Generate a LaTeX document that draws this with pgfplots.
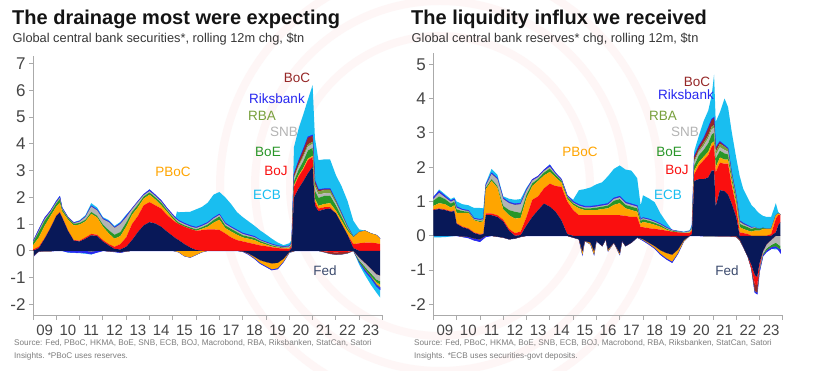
\documentclass[border=0pt]{standalone}
\usepackage{fontspec}
\setmainfont{Liberation Sans}
\usepackage{pgfplots}
\usepackage{pgfplotstable}
\pgfplotsset{compat=1.18}

\definecolor{cFed}{RGB}{8,24,88}
\definecolor{cBoJ}{RGB}{250,15,15}
\definecolor{cPBoC}{RGB}{255,165,0}
\definecolor{cBoE}{RGB}{40,150,40}
\definecolor{cSNB}{RGB}{180,180,180}
\definecolor{cRBA}{RGB}{120,160,60}
\definecolor{cBoC}{RGB}{150,40,40}
\definecolor{cRiks}{RGB}{40,40,240}
\definecolor{cECB}{RGB}{25,190,240}
\definecolor{axisgray}{RGB}{170,170,170}
\definecolor{ticktext}{RGB}{70,70,70}
\definecolor{tFed}{RGB}{60,75,110}
\definecolor{wm}{RGB}{254,246,246}

% ---------- Left panel: securities, positive parts ----------
\pgfplotstableread{
x Fed BoJ PBoC BoE SNB RBA BoC Riks ECB
2009.00 0.00 0.05 0.15 0.10 0.02 0.00 0.00 0.03 0.00
2009.25 0.10 0.05 0.35 0.20 0.05 0.00 0.00 0.05 0.00
2009.50 0.45 0.03 0.45 0.20 0.05 0.00 0.00 0.05 0.00
2009.75 0.85 0.02 0.43 0.12 0.04 0.00 0.00 0.04 0.00
2010.00 1.30 0.02 0.33 0.12 0.04 0.00 0.00 0.04 0.03
2010.15 1.43 0.02 0.35 0.13 0.05 0.00 0.00 0.05 0.02
2010.25 1.25 0.02 0.20 0.08 0.03 0.00 0.00 0.03 0.02
2010.50 0.75 0.02 0.40 0.05 0.02 0.00 0.00 0.02 0.00
2010.75 0.38 0.02 0.55 0.06 0.02 0.00 0.00 0.02 0.02
2011.00 0.35 0.03 0.60 0.06 0.05 0.00 0.00 0.02 0.03
2011.25 0.45 0.05 0.60 0.06 0.10 0.00 0.00 0.02 0.05
2011.50 0.58 0.05 0.75 0.07 0.20 0.00 0.00 0.03 0.10
2011.75 0.55 0.05 0.65 0.06 0.20 0.00 0.00 0.03 0.08
2012.00 0.35 0.05 0.50 0.08 0.20 0.00 0.00 0.03 0.05
2012.25 0.20 0.05 0.40 0.12 0.30 0.00 0.00 0.03 0.05
2012.50 0.07 0.08 0.30 0.15 0.25 0.00 0.00 0.03 0.05
2012.75 0.05 0.20 0.30 0.15 0.30 0.00 0.00 0.03 0.05
2013.00 0.15 0.35 0.40 0.15 0.20 0.00 0.00 0.05 0.05
2013.25 0.40 0.60 0.35 0.10 0.10 0.00 0.00 0.03 0.00
2013.50 0.70 0.60 0.32 0.10 0.10 0.00 0.00 0.03 0.00
2013.75 0.95 0.75 0.25 0.08 0.05 0.00 0.00 0.03 0.00
2014.00 1.07 0.75 0.28 0.08 0.05 0.00 0.00 0.05 0.02
2014.25 1.02 0.68 0.22 0.08 0.05 0.00 0.00 0.04 0.00
2014.50 0.90 0.68 0.12 0.10 0.04 0.00 0.00 0.04 0.00
2014.75 0.72 0.62 0.12 0.06 0.04 0.00 0.00 0.04 0.00
2015.00 0.55 0.60 0.05 0.07 0.04 0.00 0.00 0.04 0.00
2015.12 0.47 0.60 0.02 0.07 0.04 0.00 0.00 0.04 0.02
2015.18 0.44 0.60 0.01 0.06 0.05 0.00 0.00 0.03 0.28
2015.25 0.40 0.60 0.00 0.06 0.05 0.00 0.00 0.03 0.30
2015.50 0.25 0.65 0.00 0.05 0.05 0.00 0.00 0.03 0.42
2015.75 0.12 0.70 0.00 0.05 0.04 0.00 0.00 0.03 0.52
2016.00 0.03 0.72 0.00 0.05 0.05 0.00 0.00 0.03 0.67
2016.25 0.00 0.77 0.05 0.06 0.05 0.00 0.00 0.03 0.68
2016.50 0.00 0.80 0.10 0.08 0.05 0.00 0.00 0.03 0.74
2016.75 0.00 0.80 0.25 0.10 0.06 0.00 0.00 0.03 0.86
2017.00 0.00 0.78 0.38 0.12 0.06 0.00 0.00 0.03 0.83
2017.25 0.00 0.65 0.20 0.10 0.06 0.00 0.00 0.03 0.96
2017.50 0.00 0.50 0.22 0.10 0.05 0.00 0.00 0.03 0.85
2017.75 0.00 0.40 0.20 0.10 0.05 0.00 0.00 0.03 0.67
2018.00 0.00 0.35 0.15 0.08 0.05 0.00 0.00 0.03 0.60
2018.25 0.00 0.30 0.15 0.08 0.04 0.00 0.00 0.03 0.50
2018.50 0.00 0.25 0.15 0.08 0.03 0.00 0.00 0.03 0.40
2018.75 0.00 0.20 0.10 0.06 0.03 0.00 0.00 0.02 0.35
2019.00 0.00 0.17 0.06 0.05 0.03 0.00 0.00 0.02 0.28
2019.25 0.00 0.13 0.03 0.04 0.03 0.00 0.00 0.02 0.20
2019.50 0.00 0.10 0.02 0.03 0.02 0.00 0.00 0.02 0.12
2019.75 0.00 0.08 0.02 0.02 0.02 0.00 0.00 0.02 0.05
2020.00 0.00 0.07 0.02 0.02 0.05 0.00 0.00 0.02 0.10
2020.10 0.10 0.08 0.02 0.03 0.05 0.00 0.00 0.02 0.10
2020.20 2.00 0.40 0.05 0.15 0.10 0.05 0.10 0.02 1.00
2020.40 2.33 0.45 0.05 0.20 0.12 0.05 0.15 0.02 1.20
2020.60 2.60 0.45 0.05 0.25 0.15 0.07 0.20 0.03 1.30
2020.80 2.90 0.50 0.05 0.30 0.15 0.08 0.25 0.03 1.40
2021.00 3.15 0.35 0.05 0.30 0.15 0.08 0.22 0.03 1.87
2021.10 1.70 0.15 0.10 0.30 0.15 0.10 0.10 0.02 1.60
2021.25 1.48 0.10 0.10 0.30 0.12 0.12 0.05 0.02 1.10
2021.50 1.55 0.08 0.12 0.30 0.10 0.12 0.03 0.02 1.10
2021.75 1.58 0.05 0.15 0.28 0.10 0.12 0.02 0.02 1.10
2022.00 1.40 0.00 0.10 0.20 0.08 0.08 0.00 0.02 0.95
2022.25 1.00 0.00 0.12 0.15 0.05 0.06 0.00 0.02 1.00
2022.50 0.60 0.00 0.15 0.08 0.03 0.04 0.00 0.01 0.95
2022.75 0.10 0.15 0.25 0.02 0.00 0.00 0.00 0.00 0.60
2023.00 0.00 0.28 0.42 0.00 0.00 0.00 0.00 0.00 0.10
2023.25 0.00 0.30 0.45 0.00 0.00 0.00 0.00 0.00 0.00
2023.50 0.00 0.30 0.35 0.00 0.00 0.00 0.00 0.00 0.00
2023.75 0.00 0.28 0.30 0.00 0.00 0.00 0.00 0.00 0.00
2023.90 0.00 0.25 0.20 0.00 0.00 0.00 0.00 0.00 0.00
}\leftpos

% ---------- Left panel: negative parts ----------
\pgfplotstableread{
x Fed BoJ BoC SNB BoE PBoC RBA Riks ECB
2009.00 -0.20 0 0 0 0 0 0 -0.03 0
2009.25 -0.02 0 0 0 0 0 0 0 0
2010.25 0 0 0 0 0 0 0 0 0
2010.50 0 0 0 0 0 0 0 -0.05 -0.02
2010.75 0 0 0 0 0 0 0 -0.06 -0.02
2011.00 0 0 0 0 0 0 0 -0.07 -0.02
2011.25 0 0 0 0 0 0 0 -0.08 -0.03
2011.50 0 0 0 -0.02 0 0 0 -0.10 -0.02
2011.75 0 0 0 0 0 0 0 -0.06 0
2012.00 0 0 0 0 0 0 0 0 0
2012.50 -0.03 0 0 0 0 0 0 -0.01 0
2012.75 -0.05 0 0 0 0 0 0 -0.02 0
2013.00 -0.02 0 0 0 0 0 0 0 0
2013.25 0 0 0 0 0 0 0 0 0
2015.00 0 0 0 0 0 0 0 0 0
2015.25 0 0 0 0 0 -0.05 0 0 0
2015.50 0 0 0 0 0 -0.20 0 0 0
2015.75 0 0 0 0 0 -0.25 0 0 0
2016.00 0 0 0 0 0 -0.15 0 0 0
2016.25 0 0 0 0 0 -0.05 0 0 0
2016.50 0 0 0 0 0 0 0 0 0
2017.75 0 0 0 0 0 0 0 0 0
2018.00 -0.02 0 0 0 0 0 0 -0.01 0
2018.25 -0.10 0 0 0 0 -0.02 0 -0.02 0
2018.50 -0.22 0 0 0 0 -0.05 0 -0.02 0
2018.75 -0.35 0 0 0 0 -0.10 0 -0.03 0
2019.00 -0.42 0 0 0 0 -0.15 0 -0.03 0
2019.25 -0.47 0 0 0 0 -0.22 0 -0.03 0
2019.50 -0.45 0 0 0 0 -0.20 0 -0.03 0
2019.75 -0.30 0 0 0 0 -0.10 0 -0.02 0
2020.00 -0.05 0 0 0 0 -0.02 0 0 0
2020.25 0 0 0 0 0 0 0 0 0
2021.25 0 0 0 0 0 0 0 0 0
2021.50 0 -0.02 -0.03 0 0 0 0 0 0
2021.75 0 -0.05 -0.06 0 0 0 0 0 0
2022.00 0 -0.06 -0.08 0 0 0 0 0 0
2022.25 0 -0.05 -0.08 0 0 0 0 0 0
2022.50 0 -0.04 -0.05 0 0 0 0 0 0
2022.75 0 0 0 0 0 0 0 0 0
2023.00 -0.25 0 0 -0.10 -0.05 0 0 -0.02 -0.10
2023.25 -0.45 0 0 -0.15 -0.08 0 -0.03 -0.05 -0.15
2023.50 -0.66 0 0 -0.18 -0.10 0 -0.03 -0.05 -0.25
2023.75 -0.88 0 0 -0.20 -0.10 -0.05 -0.04 -0.06 -0.25
2023.90 -0.92 0 0 -0.22 -0.12 -0.08 -0.04 -0.07 -0.30
}\leftneg

% ---------- Right panel: reserves, positive parts ----------
\pgfplotstableread{
x Fed BoJ PBoC BoE SNB RBA BoC Riks ECB
2009.00 0.75 0.02 0.10 0.15 0.05 0.00 0.00 0.05 0.00
2009.25 0.78 0.02 0.15 0.20 0.10 0.00 0.00 0.05 0.05
2009.50 0.75 0.02 0.15 0.15 0.05 0.00 0.00 0.04 0.05
2009.75 0.70 0.02 0.10 0.12 0.05 0.00 0.00 0.03 0.05
2009.90 0.72 0.02 0.15 0.10 0.05 0.00 0.00 0.03 0.05
2010.00 0.35 0.02 0.30 0.10 0.05 0.00 0.00 0.03 0.15
2010.25 0.25 0.02 0.40 0.05 0.03 0.00 0.00 0.02 0.15
2010.50 0.20 0.02 0.45 0.03 0.02 0.00 0.00 0.02 0.15
2010.75 0.08 0.02 0.35 0.02 0.02 0.00 0.00 0.02 0.30
2011.00 0.03 0.02 0.35 0.03 0.03 0.00 0.00 0.02 0.33
2011.15 0.05 0.02 0.35 0.03 0.03 0.00 0.00 0.02 0.30
2011.25 0.60 0.05 0.70 0.05 0.05 0.00 0.00 0.03 0.05
2011.50 0.60 0.05 0.95 0.05 0.15 0.00 0.00 0.03 0.12
2011.75 0.55 0.05 0.80 0.05 0.20 0.00 0.00 0.03 0.10
2012.00 0.42 0.05 0.30 0.10 0.20 0.00 0.00 0.03 0.05
2012.25 0.15 0.05 0.40 0.15 0.20 0.00 0.00 0.03 0.10
2012.50 0.00 0.08 0.42 0.20 0.20 0.00 0.00 0.03 0.12
2012.75 0.02 0.10 0.40 0.15 0.25 0.00 0.00 0.03 0.12
2013.00 0.30 0.25 0.55 0.10 0.12 0.00 0.00 0.03 0.05
2013.25 0.55 0.50 0.40 0.08 0.08 0.00 0.00 0.03 0.00
2013.50 0.75 0.40 0.45 0.06 0.05 0.00 0.00 0.03 0.00
2013.75 0.94 0.44 0.38 0.08 0.05 0.00 0.00 0.03 0.00
2014.00 0.85 0.67 0.34 0.10 0.05 0.00 0.00 0.05 0.02
2014.25 0.70 0.75 0.25 0.07 0.03 0.00 0.00 0.03 0.00
2014.50 0.45 0.98 0.12 0.05 0.02 0.00 0.00 0.03 0.00
2014.75 0.05 0.95 0.08 0.05 0.02 0.00 0.00 0.03 0.00
2015.00 0.00 0.75 0.15 0.05 0.02 0.00 0.00 0.03 0.05
2015.25 0.00 0.60 0.20 0.05 0.03 0.00 0.00 0.03 0.42
2015.50 0.00 0.60 0.15 0.05 0.03 0.00 0.00 0.03 0.50
2015.75 0.00 0.60 0.15 0.05 0.03 0.00 0.00 0.03 0.55
2016.00 0.00 0.60 0.15 0.07 0.03 0.00 0.00 0.03 0.62
2016.25 0.00 0.60 0.18 0.07 0.03 0.00 0.00 0.03 0.65
2016.50 0.00 0.60 0.20 0.08 0.03 0.00 0.00 0.03 0.80
2016.75 0.00 0.60 0.30 0.12 0.05 0.00 0.00 0.03 0.85
2017.00 0.00 0.60 0.35 0.12 0.05 0.00 0.00 0.03 0.90
2017.25 0.00 0.58 0.22 0.10 0.05 0.00 0.00 0.03 0.95
2017.50 0.00 0.55 0.20 0.10 0.05 0.00 0.00 0.03 0.97
2017.75 0.00 0.55 0.15 0.10 0.05 0.00 0.00 0.03 0.80
2017.90 0.00 0.25 0.10 0.08 0.03 0.00 0.00 0.02 0.40
2018.00 0.00 0.25 0.15 0.08 0.03 0.00 0.00 0.02 0.65
2018.25 0.00 0.22 0.15 0.07 0.03 0.00 0.00 0.02 0.60
2018.50 0.00 0.20 0.12 0.06 0.03 0.00 0.00 0.02 0.55
2018.75 0.00 0.18 0.08 0.05 0.02 0.00 0.00 0.02 0.30
2019.00 0.00 0.15 0.03 0.03 0.02 0.00 0.00 0.02 0.15
2019.25 0.00 0.12 0.00 0.02 0.02 0.00 0.00 0.01 0.00
2019.50 0.00 0.10 0.00 0.02 0.01 0.00 0.00 0.00 0.02
2019.75 0.00 0.08 0.00 0.00 0.02 0.00 0.00 0.00 0.02
2020.00 0.00 0.08 0.02 0.00 0.03 0.00 0.00 0.00 0.03
2020.10 0.05 0.10 0.02 0.02 0.03 0.00 0.00 0.00 0.10
2020.20 1.60 0.20 0.10 0.15 0.10 0.05 0.10 0.02 0.15
2020.40 1.65 0.40 0.10 0.20 0.10 0.05 0.10 0.02 0.30
2020.60 1.65 0.55 0.10 0.20 0.12 0.08 0.12 0.02 0.50
2020.80 1.70 0.65 0.10 0.25 0.15 0.08 0.20 0.02 0.50
2020.95 1.90 0.70 0.10 0.25 0.15 0.08 0.20 0.02 0.70
2021.05 1.90 0.75 0.10 0.25 0.15 0.08 0.20 0.02 1.25
2021.12 0.85 1.00 0.15 0.25 0.10 0.10 0.10 0.02 0.75
2021.30 1.33 0.80 0.15 0.20 0.10 0.10 0.05 0.02 0.85
2021.50 1.30 0.80 0.12 0.18 0.10 0.10 0.02 0.02 1.36
2021.65 1.20 0.90 0.12 0.15 0.08 0.08 0.00 0.02 1.20
2021.80 0.95 0.55 0.12 0.12 0.05 0.05 0.00 0.02 1.20
2022.00 0.55 0.30 0.12 0.10 0.05 0.03 0.00 0.02 1.10
2022.15 0.00 0.10 0.15 0.10 0.05 0.02 0.00 0.02 1.30
2022.30 0.00 0.08 0.12 0.10 0.03 0.02 0.00 0.02 1.00
2022.50 0.00 0.05 0.10 0.10 0.03 0.00 0.00 0.02 0.80
2022.65 0.00 0.00 0.12 0.08 0.03 0.00 0.00 0.02 0.65
2022.80 0.00 0.00 0.15 0.08 0.02 0.00 0.00 0.00 0.55
2022.90 0.00 0.00 0.15 0.06 0.00 0.00 0.00 0.00 0.50
2023.00 0.00 0.00 0.15 0.05 0.00 0.00 0.00 0.00 0.45
2023.15 0.00 0.00 0.20 0.03 0.00 0.00 0.00 0.00 0.35
2023.30 0.00 0.00 0.20 0.00 0.00 0.00 0.00 0.00 0.35
2023.50 0.00 0.05 0.15 0.00 0.00 0.00 0.00 0.00 0.35
2023.70 0.10 0.40 0.10 0.00 0.00 0.00 0.00 0.00 0.35
2023.80 0.30 0.30 0.05 0.00 0.00 0.00 0.00 0.00 0.05
2023.90 0.40 0.20 0.02 0.00 0.00 0.00 0.00 0.00 0.00
}\rightpos

% ---------- Right panel: negative parts ----------
\pgfplotstableread{
x Fed BoJ BoC SNB BoE PBoC RBA Riks ECB
2009.00 0 0 0 0 0 0 0 0 -0.05
2009.50 0 0 0 0 0 0 0 0 -0.04
2010.00 0 0 0 0 0 0 0 0 0
2010.50 -0.03 0 0 0 0 0 0 -0.03 0
2010.75 -0.08 0 0 0 0 0 0 -0.05 0
2011.00 -0.10 0 0 0 0 0 0 -0.07 0
2011.25 0 0 0 0 0 0 0 -0.03 0
2011.50 0 0 0 0 0 0 0 0 0
2012.00 -0.05 0 0 0 0 0 0 0 0
2012.25 -0.10 0 0 0 0 0 0 0 0
2012.50 -0.08 0 0 0 0 0 0 0 0
2012.75 -0.03 0 0 0 0 0 0 0 0
2013.00 0 0 0 0 0 0 0 0 0
2014.75 0 0 0 0 0 0 0 0 0
2015.00 -0.05 0 0 0 0 0 0 0 0
2015.25 -0.10 0 0 0 0 0 0 0 0
2015.40 -0.45 0 0 0 0 -0.10 0 0 0
2015.50 -0.15 0 0 0 0 0 0 0 0
2015.75 -0.20 0 0 0 0 -0.05 0 0 0
2015.90 -0.45 0 0 0 0 -0.10 0 0 0
2016.00 -0.15 0 0 0 0 0 0 0 0
2016.25 -0.30 0 0 0 0 0 0 0 0
2016.40 -0.10 0 0 0 0 0 0 0 0
2016.50 -0.40 0 0 0 0 -0.05 0 0 0
2016.75 -0.20 0 0 0 0 0 0 0 0
2017.00 -0.50 0 0 0 0 -0.05 0 0 0
2017.10 -0.15 0 0 0 0 0 0 0 0
2017.25 -0.30 0 0 0 0 0 0 0 0
2017.50 -0.20 0 0 0 0 0 0 0 0
2017.75 -0.05 0 0 0 0 0 0 0 0
2018.00 -0.10 0 0 0 0 -0.02 0 -0.02 0
2018.25 -0.20 0 0 0 0 -0.03 0 -0.02 0
2018.50 -0.30 0 0 0 0 -0.05 0 -0.02 0
2018.75 -0.42 0 0 0 0 -0.10 0 -0.03 0
2019.00 -0.50 0 0 0 0 -0.15 0 -0.03 0
2019.25 -0.55 0 0 0 0 -0.20 0 -0.03 0
2019.50 -0.40 0 0 0 0 -0.10 0 -0.02 0
2019.75 -0.13 0 0 0 0 -0.03 0 0 0
2020.00 0 0 0 0 0 0 0 0 0
2021.75 0 0 -0.02 0 0 0 0 0 0
2022.00 0 0 -0.03 0 0 0 0 0 0
2022.15 -0.10 0 -0.03 0 0 0 0 0 0
2022.30 -0.32 0 0 0 0 0 0 0 0
2022.50 -0.61 0 0 0 0 0 0 0 0
2022.65 -0.85 -0.10 0 0 0 0 0 0 0
2022.80 -1.15 -0.25 -0.20 0 0 0 0 -0.05 0
2022.90 -1.20 -0.25 -0.20 0 0 0 0 -0.05 0
2023.00 -0.80 -0.10 -0.05 -0.05 0 0 0 -0.05 0
2023.15 -0.45 0 0 -0.08 -0.03 0 0 -0.03 0
2023.30 -0.25 0 0 -0.12 -0.05 0 0 -0.05 0
2023.50 -0.12 0 0 -0.15 -0.06 0 0 -0.05 0
2023.70 0 0 0 -0.20 -0.10 0 0 -0.05 -0.05
2023.80 0 0 0 -0.25 -0.10 0 0 -0.05 0
2023.90 0 0 0 -0.30 -0.10 0 0 -0.10 0
}\rightneg

\pgfplotsset{
  panel/.style={
    scale only axis, width=349.5pt,
    xmin=2009, xmax=2024,
    axis x line*=bottom, axis y line*=left,
    axis line style={draw=axisgray, line width=0.8pt},
    tick style={draw=axisgray, line width=0.8pt},
    tick align=outside, major tick length=4pt,
    xtick={2009,2010,...,2024},
    x tick label as interval,
    xticklabels={09,10,11,12,13,14,15,16,17,18,19,20,21,22,23},
    x tick label style={font=\fontsize{15}{15}\selectfont, text=ticktext, yshift=-2pt},
    y tick label style={font=\fontsize{17}{17}\selectfont, text=ticktext},
    stack plots=y,
  },
  lpanel/.style={panel, height=260pt, ymin=-2.43, ymax=7.3,
    ytick={-2,-1,0,1,2,3,4,5,6,7},
    yticklabels={-2,-1,0,1,2,3,4,5,6,7}},
  rpanel/.style={panel, height=262.4pt, ymin=-2.33, ymax=5.32,
    ytick={-2,-1,0,1,2,3,4,5},
    yticklabels={-2,-1,0,1,2,3,4,5}},
  ar/.style={fill=#1, draw=none},
  riks/.style={fill=cRiks, draw=cRiks, line width=0.6pt},
}

\begin{document}
\begin{tikzpicture}
\fill[white] (0pt,0pt) rectangle (835pt,371pt);
\path[use as bounding box] (0pt,0pt) rectangle (835pt,371pt);
% faint watermark rings
\begin{scope}
\clip (0pt,0pt) rectangle (835pt,371pt);
\draw[wm, line width=8pt] (440pt,185pt) circle (150pt);
\draw[wm, line width=8pt] (440pt,185pt) circle (185pt);
\draw[wm, line width=8pt] (440pt,185pt) circle (220pt);
\end{scope}

% ===== Left panel =====
\begin{axis}[lpanel, hide axis, at={(33pt,55.3pt)}, anchor=south west]
\addplot[ar=cFed]  table[x=x,y=Fed]  {\leftneg} \closedcycle;
\addplot[ar=cBoJ]  table[x=x,y=BoJ]  {\leftneg} \closedcycle;
\addplot[ar=cBoC]  table[x=x,y=BoC]  {\leftneg} \closedcycle;
\addplot[ar=cSNB]  table[x=x,y=SNB]  {\leftneg} \closedcycle;
\addplot[ar=cBoE]  table[x=x,y=BoE]  {\leftneg} \closedcycle;
\addplot[ar=cPBoC] table[x=x,y=PBoC] {\leftneg} \closedcycle;
\addplot[ar=cRBA]  table[x=x,y=RBA]  {\leftneg} \closedcycle;
\addplot[riks]     table[x=x,y=Riks] {\leftneg} \closedcycle;
\addplot[ar=cECB]  table[x=x,y=ECB]  {\leftneg} \closedcycle;
\end{axis}
\begin{axis}[lpanel, at={(33pt,55.3pt)}, anchor=south west]
\addplot[ar=cFed]  table[x=x,y=Fed]  {\leftpos} \closedcycle;
\addplot[ar=cBoJ]  table[x=x,y=BoJ]  {\leftpos} \closedcycle;
\addplot[ar=cPBoC] table[x=x,y=PBoC] {\leftpos} \closedcycle;
\addplot[ar=cBoE]  table[x=x,y=BoE]  {\leftpos} \closedcycle;
\addplot[ar=cSNB]  table[x=x,y=SNB]  {\leftpos} \closedcycle;
\addplot[ar=cRBA]  table[x=x,y=RBA]  {\leftpos} \closedcycle;
\addplot[ar=cBoC]  table[x=x,y=BoC]  {\leftpos} \closedcycle;
\addplot[riks]     table[x=x,y=Riks] {\leftpos} \closedcycle;
\addplot[ar=cECB]  table[x=x,y=ECB]  {\leftpos} \closedcycle;
\end{axis}

% ===== Right panel =====
\begin{axis}[rpanel, hide axis, at={(433.3pt,55.3pt)}, anchor=south west]
\addplot[ar=cFed]  table[x=x,y=Fed]  {\rightneg} \closedcycle;
\addplot[ar=cBoJ]  table[x=x,y=BoJ]  {\rightneg} \closedcycle;
\addplot[ar=cBoC]  table[x=x,y=BoC]  {\rightneg} \closedcycle;
\addplot[ar=cSNB]  table[x=x,y=SNB]  {\rightneg} \closedcycle;
\addplot[ar=cBoE]  table[x=x,y=BoE]  {\rightneg} \closedcycle;
\addplot[ar=cPBoC] table[x=x,y=PBoC] {\rightneg} \closedcycle;
\addplot[ar=cRBA]  table[x=x,y=RBA]  {\rightneg} \closedcycle;
\addplot[riks]     table[x=x,y=Riks] {\rightneg} \closedcycle;
\addplot[ar=cECB]  table[x=x,y=ECB]  {\rightneg} \closedcycle;
\end{axis}
\begin{axis}[rpanel, at={(433.3pt,55.3pt)}, anchor=south west]
\addplot[ar=cFed]  table[x=x,y=Fed]  {\rightpos} \closedcycle;
\addplot[ar=cBoJ]  table[x=x,y=BoJ]  {\rightpos} \closedcycle;
\addplot[ar=cPBoC] table[x=x,y=PBoC] {\rightpos} \closedcycle;
\addplot[ar=cBoE]  table[x=x,y=BoE]  {\rightpos} \closedcycle;
\addplot[ar=cSNB]  table[x=x,y=SNB]  {\rightpos} \closedcycle;
\addplot[ar=cRBA]  table[x=x,y=RBA]  {\rightpos} \closedcycle;
\addplot[ar=cBoC]  table[x=x,y=BoC]  {\rightpos} \closedcycle;
\addplot[riks]     table[x=x,y=Riks] {\rightpos} \closedcycle;
\addplot[ar=cECB]  table[x=x,y=ECB]  {\rightpos} \closedcycle;
\end{axis}

% ===== Titles =====
\node[anchor=base west, inner sep=0pt, text={rgb,255:red,20;green,20;blue,20}]
  at (12pt,346pt) {\fontsize{20}{24}\selectfont\bfseries The drainage most were expecting};
\node[anchor=base west, inner sep=0pt, text={rgb,255:red,55;green,55;blue,55}]
  at (12.5pt,328pt) {\fontsize{12.8}{15}\selectfont Global central bank securities*, rolling 12m chg, \$tn};
\node[anchor=base west, inner sep=0pt, text={rgb,255:red,20;green,20;blue,20}]
  at (411pt,346pt) {\fontsize{20}{24}\selectfont\bfseries The liquidity influx we received};
\node[anchor=base west, inner sep=0pt, text={rgb,255:red,55;green,55;blue,55}]
  at (411.5pt,328pt) {\fontsize{12.8}{15}\selectfont Global central bank reserves* chg, rolling 12m, \$tn};

% ===== Sources =====
\begin{scope}[every node/.style={anchor=base west, inner sep=0pt, text={rgb,255:red,125;green,125;blue,125}, font=\fontsize{8.2}{10}\selectfont}]
\node at (14pt,25pt) {Source: Fed, PBoC, HKMA, BoE, SNB, ECB, BOJ, Macrobond, RBA, Riksbanken, StatCan, Satori};
\node at (14pt,12.5pt) {Insights. *PBoC uses reserves.};
\node at (414pt,25pt) {Source: Fed, PBoC, HKMA, BoE, SNB, ECB, BOJ, Macrobond, RBA, Riksbanken, StatCan, Satori};
\node at (414pt,12.5pt) {Insights. *ECB uses securities-govt deposits.};
\end{scope}

% ===== Series labels =====
\begin{scope}[every node/.style={inner sep=0pt, font=\fontsize{13.5}{15}\selectfont}]
\node[text=cBoC]  at (297pt,293pt) {BoC};
\node[text=cRiks] at (277pt,272pt) {Riksbank};
\node[text=cRBA]  at (262pt,255pt) {RBA};
\node[text=cSNB]  at (284pt,239pt) {SNB};
\node[text=cBoE]  at (268pt,219pt) {BoE};
\node[text=cBoJ]  at (276pt,200pt) {BoJ};
\node[text=cECB]  at (267pt,176pt) {ECB};
\node[text=cPBoC] at (173pt,199pt) {PBoC};
\node[text=tFed]  at (325pt,100pt) {Fed};
\node[text=cBoC]  at (697pt,289pt) {BoC};
\node[text=cRiks] at (686pt,276pt) {Riksbank};
\node[text=cRBA]  at (663pt,255pt) {RBA};
\node[text=cSNB]  at (685pt,239pt) {SNB};
\node[text=cBoE]  at (669pt,219pt) {BoE};
\node[text=cBoJ]  at (677pt,201pt) {BoJ};
\node[text=cECB]  at (668pt,176pt) {ECB};
\node[text=cPBoC] at (580pt,219pt) {PBoC};
\node[text=tFed]  at (727pt,100pt) {Fed};
\end{scope}
\end{tikzpicture}
\end{document}
